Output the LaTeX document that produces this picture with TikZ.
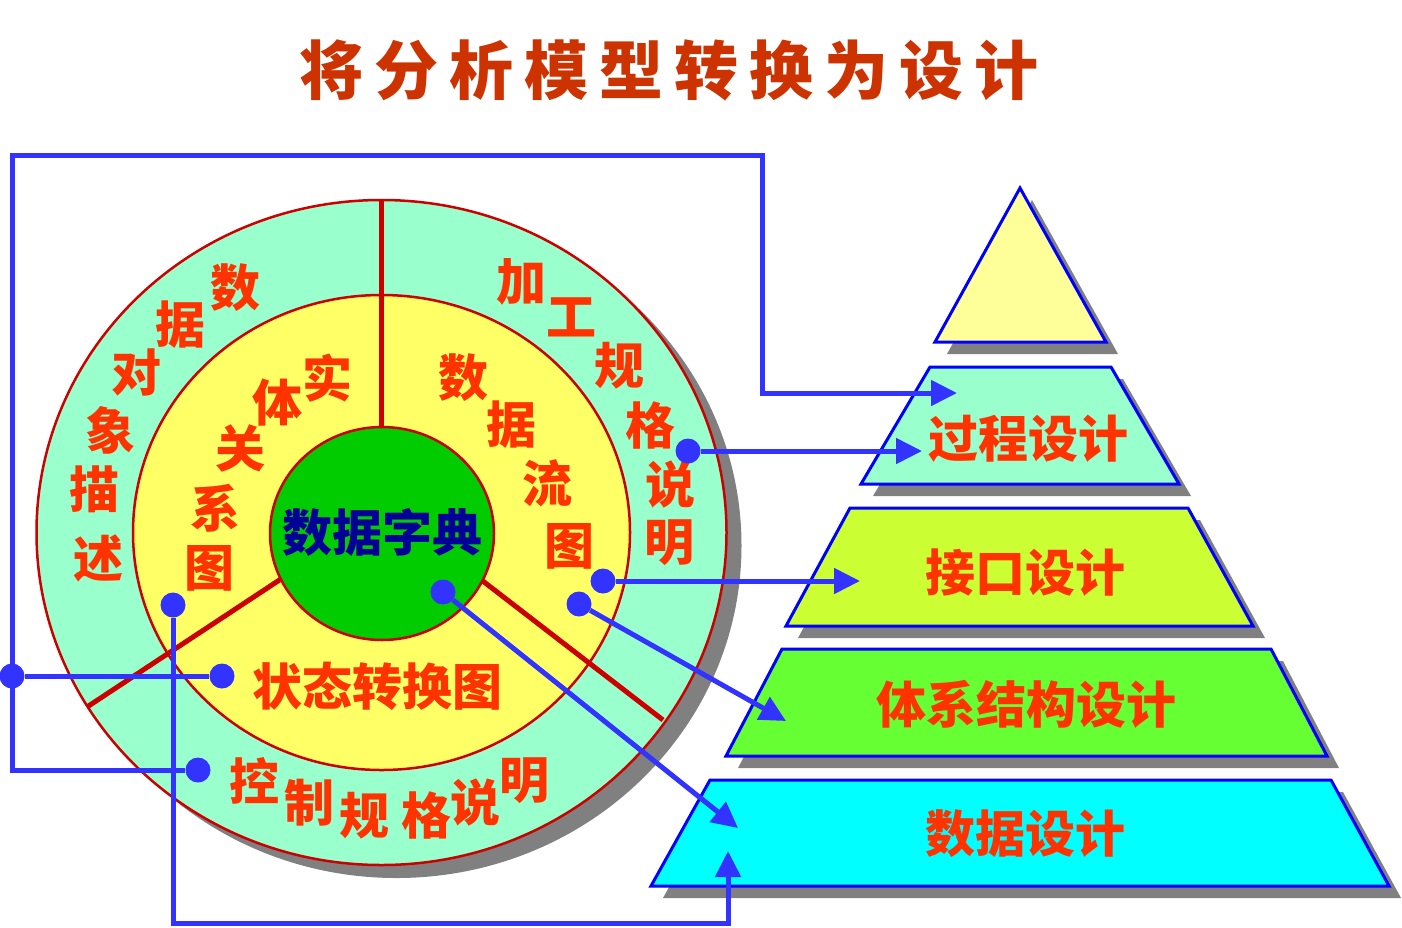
\documentclass[tikz,border=0pt]{standalone}
\usepackage{fontspec}
\usepackage{tikz}
\usetikzlibrary{arrows.meta}
\newfontfamily\cjk{Noto Sans CJK SC}
\definecolor{ringOuter}{RGB}{153,255,204}
\definecolor{ringMid}{RGB}{255,255,102}
\definecolor{coreGreen}{RGB}{0,204,0}
\definecolor{rimRed}{RGB}{204,0,0}
\definecolor{labelRed}{RGB}{255,51,0}
\definecolor{coreText}{RGB}{0,0,153}
\definecolor{titleRed}{RGB}{204,51,0}
\definecolor{linkBlue}{RGB}{51,51,255}
\definecolor{edgeBlue}{RGB}{0,0,255}
\definecolor{shadowGray}{RGB}{128,128,128}
\definecolor{tierTop}{RGB}{255,255,153}
\definecolor{tierProc}{RGB}{153,255,204}
\definecolor{tierIface}{RGB}{204,255,51}
\definecolor{tierArch}{RGB}{102,255,51}
\definecolor{tierData}{RGB}{0,255,255}

\begin{document}
\begin{tikzpicture}[
  x=1pt, y=-1pt,
  lbl/.style={font=\cjk\bfseries\fontsize{50}{50}\selectfont, text=labelRed, inner sep=0pt},
  titlech/.style={font=\cjk\bfseries\fontsize{64}{64}\selectfont, text=titleRed, inner sep=0pt},
  hub/.style={circle, fill=linkBlue, minimum size=25pt, inner sep=0pt},
  conn/.style={draw=linkBlue, line width=5pt},
  arr/.style={-{Triangle[length=26pt,width=25pt]}},
  divider/.style={draw=rimRed, line width=5pt}
]
  \useasboundingbox (0,0) rectangle (1402,927);
  \coordinate (ctr) at (381.5,532.5);

  % title
  \foreach \c [count=\i] in {将,分,析,模,型,转,换,为,设,计}
    \node[titlech] (t\i) at ({256+75*\i},70) {\c};

  % rings
  \fill[shadowGray] ([shift={(15,13)}]ctr) ellipse [x radius=345pt, y radius=332.5pt];
  \filldraw[fill=ringOuter, draw=rimRed, line width=2.5pt] (ctr) ellipse [x radius=345pt, y radius=332.5pt];
  \filldraw[fill=ringMid, draw=rimRed, line width=2.5pt] (ctr) ellipse [x radius=248.5pt, y radius=237.5pt];
  \draw[divider] (381.5,200) -- (381.5,430);
  \draw[divider] (290,573) -- (87,707);
  \draw[divider] (475,575) -- (663,720);
  \filldraw[fill=coreGreen, draw=rimRed, line width=2.5pt] (382,533.5) ellipse [x radius=112pt, y radius=106.5pt];

  % ring labels
  \foreach \c/\x/\y [count=\i] in {数/235/288, 据/180/325, 对/136/372, 象/110/430, 描/94/489, 述/98/558}
    \node[lbl] (ol\i) at (\x,\y) {\c};
  \foreach \c/\x/\y [count=\i] in {实/327/378, 体/277/403, 关/240/448, 系/215/508, 图/209/568}
    \node[lbl] (il\i) at (\x,\y) {\c};
  \foreach \c/\x/\y [count=\i] in {数/463/378, 据/511/425, 流/547/483, 图/569/546}
    \node[lbl] (ir\i) at (\x,\y) {\c};
  \foreach \c/\x/\y [count=\i] in {加/521/282, 工/571/317, 规/619/366, 格/650/425, 说/670/485, 明/669/543}
    \node[lbl] (or\i) at (\x,\y) {\c};
  \foreach \c/\x/\y [count=\i] in {控/254/781, 制/309/803, 规/364/816, 格/426/815, 说/475/803, 明/524/781}
    \node[lbl] (ob\i) at (\x,\y) {\c};
  \node[lbl] (state) at (377,686) {状态转换图};
  \node[lbl, text=coreText] (dict) at (382.5,532.5) {数据字典};

  % pyramid
  \fill[shadowGray, shift={(12,12)}] (1020,188) -- (1106,342) -- (935,342) -- cycle;
  \filldraw[fill=tierTop, draw=edgeBlue, line width=3pt] (1020,188) -- (1106,342) -- (935,342) -- cycle;
  \foreach \fc/\ty/\by/\tl/\tr/\bl/\br in {tierProc/367/484/930/1111/861/1179,
      tierIface/508/626/850/1188/786/1253, tierArch/649/756/782/1271/726/1327,
      tierData/780/886/710/1331/651/1389}{
    \fill[shadowGray, shift={(12,12)}] (\tl,\ty) -- (\tr,\ty) -- (\br,\by) -- (\bl,\by) -- cycle;
    \filldraw[fill=\fc, draw=edgeBlue, line width=3pt] (\tl,\ty) -- (\tr,\ty) -- (\br,\by) -- (\bl,\by) -- cycle;
  }
  \node[lbl] (proc) at (1028,439) {过程设计};
  \node[lbl] (iface) at (1025,573) {接口设计};
  \node[lbl] (arch) at (1026,704) {体系结构设计};
  \node[lbl] (data) at (1025,834) {数据设计};

  % connectors
  \node[hub] (junc) at (12,676) {};
  \node[hub] (stateDot) at (222,676) {};
  \node[hub] (ctlDot) at (198,770) {};
  \node[hub] (specDot) at (688,451) {};
  \node[hub] (dfdDotA) at (603,581) {};
  \node[hub] (dfdDotB) at (579,604) {};
  \node[hub] (dictDot) at (443,592) {};
  \node[hub] (erDot) at (173,605) {};
  \coordinate (topL) at (12,155);
  \coordinate (bendP) at (762,393);
  \coordinate (botR) at (728,923);
  \draw[conn] (stateDot) -- (junc);
  \draw[conn, arr] (ctlDot) -| (topL) -| (bendP) -- (957,393);
  \draw[conn, arr] (specDot) -- (922,451);
  \draw[conn, arr] (dfdDotA) -- (860,581);
  \draw[conn, arr] (dfdDotB) -- (786,721);
  \draw[conn, arr] (dictDot) -- (738,828);
  \draw[conn, arr] (erDot) |- (botR) -- (728,851);
\end{tikzpicture}
\end{document}
